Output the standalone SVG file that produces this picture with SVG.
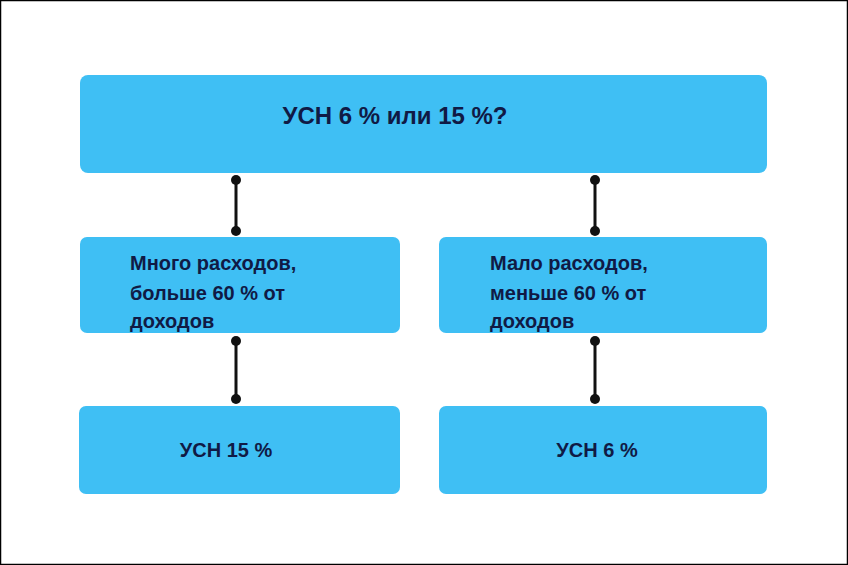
<svg xmlns="http://www.w3.org/2000/svg" width="848" height="565" viewBox="0 0 848 565">
<style>
.box{fill:#3fbff4}
.t{font-family:"Liberation Sans",Arial,sans-serif;font-weight:bold;fill:#101a45}
.c{stroke:#111;stroke-width:3}
.d{fill:#111}
</style>
<rect x="0.5" y="0.5" width="847" height="564" fill="#fff" stroke="#000" stroke-width="1.5"/>
<g id="top"><rect class="box" x="80" y="75" width="687" height="98" rx="8"/><text class="t" x="395" y="124" font-size="24" text-anchor="middle">УСН 6 % или 15 %?</text></g>
<g id="many"><rect class="box" x="80" y="237" width="320" height="96" rx="7"/><text class="t" x="130" y="270" font-size="20">Много расходов,<tspan x="130" y="300">больше 60 % от</tspan><tspan x="130" y="328">доходов</tspan></text></g>
<g id="few"><rect class="box" x="439" y="237" width="328" height="96" rx="7"/><text class="t" x="490" y="270" font-size="20">Мало расходов,<tspan x="490" y="300">меньше 60 % от</tspan><tspan x="490" y="328">доходов</tspan></text></g>
<g id="usn15"><rect class="box" x="79" y="406" width="321" height="88" rx="7"/><text class="t" x="226" y="457" font-size="20" text-anchor="middle">УСН 15 %</text></g>
<g id="usn6"><rect class="box" x="439" y="406" width="328" height="88" rx="7"/><text class="t" x="597" y="457" font-size="20" text-anchor="middle">УСН 6 %</text></g>
<g id="connectors">
<line class="c" x1="236" y1="180" x2="236" y2="231"/><circle class="d" cx="236" cy="180" r="5"/><circle class="d" cx="236" cy="231" r="5"/>
<line class="c" x1="595" y1="180" x2="595" y2="231"/><circle class="d" cx="595" cy="180" r="5"/><circle class="d" cx="595" cy="231" r="5"/>
<line class="c" x1="236" y1="341" x2="236" y2="399"/><circle class="d" cx="236" cy="341" r="5"/><circle class="d" cx="236" cy="399" r="5"/>
<line class="c" x1="595" y1="341" x2="595" y2="399"/><circle class="d" cx="595" cy="341" r="5"/><circle class="d" cx="595" cy="399" r="5"/>
</g>
</svg>
